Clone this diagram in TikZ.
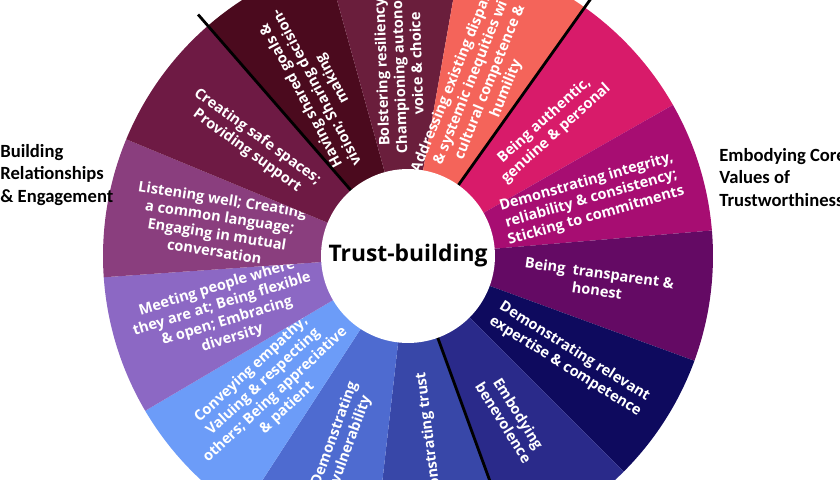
\documentclass[tikz,border=0pt]{standalone}
\usepackage{fontspec}
\setmainfont{Open Sans}
\newfontfamily\sidefont{Carlito}
\usetikzlibrary{calc}
\definecolor{cShared}{HTML}{4B0A1E}
\definecolor{cResil}{HTML}{6A1E3C}
\definecolor{cDispar}{HTML}{F4645A}
\definecolor{cAuth}{HTML}{D81B6A}
\definecolor{cInteg}{HTML}{A70D72}
\definecolor{cTransp}{HTML}{640A64}
\definecolor{cExpert}{HTML}{0E0A5E}
\definecolor{cBenev}{HTML}{2A2A8A}
\definecolor{cTrust}{HTML}{3847A8}
\definecolor{cVulner}{HTML}{4E6BD0}
\definecolor{cEmpath}{HTML}{6C9CF8}
\definecolor{cMeet}{HTML}{8C68C4}
\definecolor{cListen}{HTML}{8A3E7E}
\definecolor{cSafe}{HTML}{6E1A44}
\tikzstyle{seglabel}=[text=white,font=\bfseries\fontsize{8.3}{10}\selectfont,align=center,inner sep=0pt]
\tikzstyle{sidelabel}=[font=\sidefont\bfseries\fontsize{10.6}{12.8}\selectfont,align=left,anchor=north west,inner sep=0pt]
\tikzstyle{divider}=[black,line width=1.6pt]

\begin{document}
\begin{tikzpicture}[x=0.02cm,y=0.02cm]
  \useasboundingbox (0,0) rectangle (840,480);
  \clip (0,0) rectangle (840,480);
  \coordinate (c) at (408,224);
  % wheel segments
  \foreach \a/\b/\col/\rot/\txt [count=\i] in {
      105.5/131/cShared/118/{Having shared goals \&\\vision; Sharing decision-\\making},
      80/105.5/cResil/92/{Bolstering resiliency \&\\Championing autonomy,\\voice \& choice},
      54.6/80/cDispar/68/{Addressing existing disparities\\\& systemic inequities with\\cultural competence \&\\humility},
      29.7/54.6/cAuth/42/{Being authentic,\\genuine \& personal},
      4.8/29.7/cInteg/16/{Demonstrating integrity,\\reliability \& consistency;\\Sticking to commitments},
      -20.1/4.8/cTransp/-8/{Being\ \ transparent \&\\honest},
      -45/-20.1/cExpert/-32/{Demonstrating relevant\\expertise \& competence},
      -70/-45/cBenev/-58/{Embodying\\benevolence},
      -96.5/-70/cTrust/97/{Demonstrating trust},
      237/263.5/cVulner/70/{Demonstrating\\vulnerability},
      210.5/237/cEmpath/43/{Conveying empathy;\\Valuing \& respecting\\others; Being appreciative\\\& patient},
      184/210.5/cMeet/17/{Meeting people where\\they are at; Being flexible\\\& open; Embracing\\diversity},
      157.5/184/cListen/-9/{Listening well; Creating\\a common language;\\Engaging in mutual\\conversation},
      131/157.5/cSafe/-36/{Creating safe spaces;\\Providing support}}{
    \fill[\col] (c) -- ($(c)+(\a:305)$) arc[start angle=\a,end angle=\b,radius=305] -- cycle;
    \node[seglabel,rotate=\rot] (s\i) at ($(c)+({(\a+\b)/2}:192)$) {\txt};
  }
  % group dividers
  \foreach \ang [count=\j] in {131,54.6,-70}{
    \coordinate (d\j) at ($(c)+(\ang:320)$);
    \draw[divider] (c) -- (d\j);
  }
  \node[circle,fill=white,minimum size=2.88cm] (hub) at (c)
    {\bfseries\fontsize{13}{15}\selectfont Trust-building};
  \node[sidelabel] (left) at (0,336) {Building\\Relationships\\\& Engagement};
  \node[sidelabel] (right) at (719,332) {Embodying Core\\Values of\\Trustworthiness};
\end{tikzpicture}
\end{document}
